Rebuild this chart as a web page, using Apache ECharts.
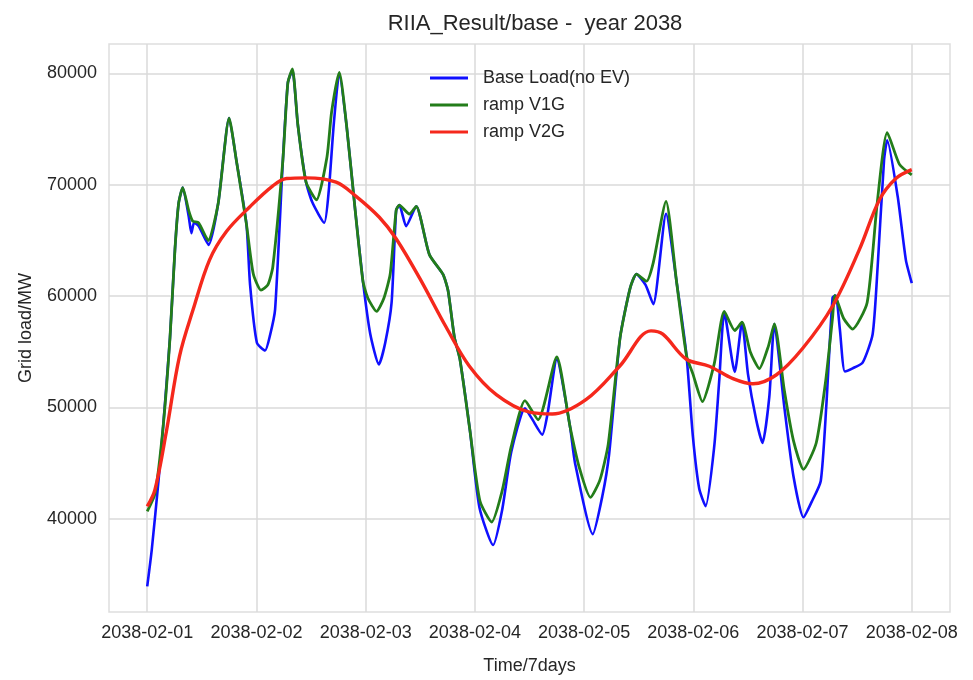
<!DOCTYPE html>
<html>
<head>
<meta charset="utf-8">
<script src="https://cdn.jsdelivr.net/npm/echarts@6/dist/echarts.min.js"></script>
<style>
html,body{margin:0;padding:0;background:#fff;}
#chart{width:973px;height:680px;}
</style>
</head>
<body>
<div id="chart"></div>
<script>
// Hours since 2038-02-01 00:00 and grid load (MW)
var dayLabels = ['2038-02-01','2038-02-02','2038-02-03','2038-02-04','2038-02-05','2038-02-06','2038-02-07','2038-02-08'];
var dayTicks = [0,24,48,72,96,120,144,168];
var yTicks = [40000,50000,60000,70000,80000];

var baseHours = [0,1,2.5,3.5,5,6.1,6.9,7.8,9.1,9.7,10.3,11.3,13.5,15.6,18.0,19.6,21.8,22.6,24.1,25.9,27,28.1,29.8,30.9,31.9,33.1,34.9,36.3,38.9,39.9,41,42.2,43.8,45.7,47.4,49,50.9,52.3,53.7,54.7,55.4,56.9,59.1,62,65,66.1,67.5,68.7,70.9,73,76,78,80,83,84.5,86.8,88,90,92.9,94,97.9,100,101.5,103.9,106.1,107.5,109.5,111.2,114,116.3,118.5,119.9,121.3,122.7,124.6,125.7,126.8,129.1,130.7,132,133.8,135.2,136.7,137.8,140,142,144.2,146,148,149.2,150.6,151.3,152.2,153.3,155,157.2,159.4,160.5,161.9,162.6,164.9,166.7,168];
var baseLoad = [33900,37200,43500,48280,56240,64230,68330,69750,67200,65650,66600,66300,64600,68330,75990,72160,66460,61000,55800,55100,56500,58800,72160,79150,80300,75370,70230,68400,66580,69500,75500,80000,75330,67700,61330,56600,53850,55800,59420,67700,68170,66280,68060,63720,61940,60490,56300,54340,47960,41000,37620,40800,46000,49900,49000,47540,49500,54300,48280,45000,38600,42000,45800,56240,60690,61970,61000,59260,67400,61330,54640,47390,42670,41110,46500,52470,58530,53180,57640,53000,48900,46790,50960,57490,50000,43800,40110,41500,43380,50000,59860,60050,57000,53220,53500,54010,56560,62630,72160,74000,68960,63250,61160];

var v1gHours = [0,1.7,3.5,5,6.1,6.9,7.8,9.1,10,11.3,13.4,15.6,18.0,19.6,21.8,23.3,25,26.5,27.6,29.8,30.9,31.9,33.1,34.9,37.2,39.5,40.5,42.2,43.8,45.7,47.4,48.5,50.4,52,53.4,54.7,55.4,57.6,59.1,62,65,66.1,67.5,68.7,70.9,73.1,75.7,78,80,83,85.9,90,92.9,95,97.4,99.5,101.3,103.9,106.1,107.5,109.7,111.2,114,116.3,118.5,119.9,122,124.6,126.8,129.1,130.7,132.5,134.5,136.5,137.8,140,142,144.2,147,149.1,150.6,151.1,153,155,158.2,160.4,162.6,165.3,168];
var v1gLoad = [40640,42220,48280,56240,64230,68330,69750,67700,66730,66580,64990,68330,75990,72160,66460,62000,60530,61000,62630,72160,79150,80420,75370,70230,68650,72500,76500,80100,75330,67700,61330,59800,58620,59800,62000,67700,68170,67370,68060,63720,61940,60490,56300,54340,47960,41600,39690,42500,46500,50600,48880,54520,48280,44500,41900,43500,46690,56240,60690,61970,61330,63000,68510,61330,54640,53000,50510,53920,58620,56900,57640,55000,53480,55500,57490,51500,47000,44420,46790,52440,58080,60050,58000,57030,59420,68330,74690,71830,70880];

var v2gHours = [0,1.7,4.2,7.1,10.1,13.7,17.4,22.5,27.6,30.6,35,41.5,45.9,51,54.7,59.8,65.7,70.8,76.7,84,89,96.4,103.8,110.7,113.3,118.4,123.5,128.7,133.1,138.2,144,150.6,156.5,160.9,164.5,168];
var v2gLoad = [41100,42600,47800,54600,58800,63250,65800,68000,69900,70560,70620,70230,68960,67080,65150,61650,57190,53690,51140,49560,49400,50690,53690,56870,56570,54340,53690,52570,52110,52900,55280,59100,64190,68650,70560,71360];

function pairs(h, v){ return h.map(function(t,i){ return [t, v[i]]; }); }

var FONT = 'Liberation Sans, Arial, sans-serif';
var TXT = '#262626';
var chart = echarts.init(document.getElementById('chart'), null, {renderer:'canvas'});
chart.setOption({
  animation: false,
  backgroundColor: '#ffffff',
  title: {
    text: 'RIIA_Result/base -  year 2038',
    left: 530, top: 8, textAlign: 'center',
    textStyle: {fontFamily: FONT, fontSize: 22, fontWeight: 'normal', color: TXT}
  },
  legend: {
    orient: 'vertical', left: 425, top: 64,
    itemWidth: 38, itemHeight: 3, itemGap: 9, icon: 'rect',
    textStyle: {fontFamily: FONT, fontSize: 18, color: TXT, lineHeight: 18, padding: [0,0,0,10]},
    data: ['Base Load(no EV)','ramp V1G','ramp V2G']
  },
  grid: {left: 109, right: 23, top: 44, bottom: 63, show: true, borderColor: '#dedede', borderWidth: 1.5, backgroundColor: '#ffffff'},
  xAxis: {
    type: 'value', min: -8.4, max: 176.4,
    name: 'Time/7days', nameLocation: 'middle', nameGap: 45,
    nameTextStyle: {fontFamily: FONT, fontSize: 18, color: TXT},
    axisLine: {show: false}, axisTick: {show: false, customValues: dayTicks},
    axisLabel: {customValues: dayTicks, margin: 12, fontFamily: FONT, fontSize: 18, color: TXT,
      formatter: function(v){ return dayLabels[Math.round(v/24)]; }},
    splitLine: {show: true, lineStyle: {color: '#dadada', width: 1.5}}
  },
  yAxis: {
    type: 'value', min: 31600, max: 82650,
    name: 'Grid load/MW', nameLocation: 'middle', nameGap: 74,
    nameTextStyle: {fontFamily: FONT, fontSize: 18, color: TXT},
    axisLine: {show: false}, axisTick: {show: false, customValues: yTicks},
    axisLabel: {customValues: yTicks, margin: 12, fontFamily: FONT, fontSize: 18, color: TXT,
      formatter: function(v){ return String(Math.round(v)); }},
    splitLine: {show: true, lineStyle: {color: '#dadada', width: 1.5}}
  },
  series: [
    {name: 'Base Load(no EV)', type: 'line', data: pairs(baseHours, baseLoad), showSymbol: false, symbol: 'none', smooth: 0.2,
     lineStyle: {color: '#1010ff', width: 2.6}, itemStyle: {color: '#1010ff'}, z: 2},
    {name: 'ramp V1G', type: 'line', data: pairs(v1gHours, v1gLoad), showSymbol: false, symbol: 'none', smooth: 0.2,
     lineStyle: {color: '#237d1a', width: 2.8}, itemStyle: {color: '#237d1a'}, z: 3},
    {name: 'ramp V2G', type: 'line', data: pairs(v2gHours, v2gLoad), showSymbol: false, symbol: 'none', smooth: 0.35,
     lineStyle: {color: '#f5281c', width: 3.4}, itemStyle: {color: '#f5281c'}, z: 4}
  ]
});
</script>
</body>
</html>
